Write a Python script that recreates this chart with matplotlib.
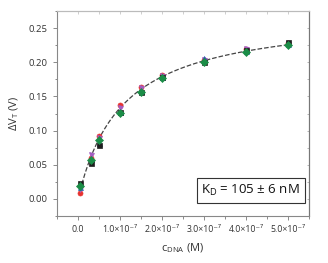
import matplotlib
matplotlib.use('Agg')
import matplotlib.pyplot as plt
import numpy as np
from matplotlib.ticker import MultipleLocator, FixedLocator

plt.rcParams['font.family'] = ['Open Sans', 'DejaVu Sans']

# concentrations (M)
conc = np.array([0.05, 0.3, 0.5, 1.0, 1.5, 2.0, 3.0, 4.0, 5.0]) * 1e-7

# five repeat measurements of delta V_T (V)
dv_red = [0.008, 0.060, 0.092, 0.137, 0.164, 0.182, 0.203, 0.219, 0.228]
dv_purple = [0.015, 0.065, 0.089, 0.133, 0.162, 0.180, 0.203, 0.219, 0.226]
dv_blue = [0.018, 0.058, 0.082, 0.127, 0.158, 0.179, 0.206, 0.217, 0.227]
dv_black = [0.023, 0.052, 0.079, 0.127, 0.157, 0.179, 0.201, 0.218, 0.230]
dv_green = [0.019, 0.057, 0.086, 0.126, 0.157, 0.177, 0.200, 0.215, 0.225]

kd = 105e-9

fig = plt.figure(figsize=(3.28, 2.63), dpi=100)
ax = fig.add_axes([57 / 328, 1 - 216 / 263, 252 / 328, 205 / 263])

series = [
    (dv_red, 'o', '#e8322f'),
    (dv_purple, 'v', '#a35cc0'),
    (dv_blue, '^', '#2b5fae'),
    (dv_black, 's', '#1e1e1e'),
    (dv_green, 'D', '#1b8d47'),
]

# Langmuir fit (offset + amplitude) on the mean response, K_D fixed
mean_dv = np.mean([s[0] for s in series], axis=0)
theta = conc / (kd + conc)
A, y0 = np.linalg.lstsq(np.vstack([theta, np.ones_like(theta)]).T, mean_dv, rcond=None)[0]
xfit = np.linspace(conc[0], conc[-1], 300)
ax.plot(xfit, y0 + A * xfit / (kd + xfit), color='#444444', linestyle='--', linewidth=0.9, zorder=1)

for vals, mk, col in series:
    ax.plot(conc, vals, linestyle='none', marker=mk, color=col, markersize=3.6,
            markeredgewidth=0.5, zorder=3)

ax.set_xlim(-0.5e-7, 5.5e-7)
ax.set_ylim(-0.025, 0.275)

xticks = [0, 1e-7, 2e-7, 3e-7, 4e-7, 5e-7]
xticklabels = ['0.0', '1.0×10⁻⁷', '2.0×10⁻⁷', '3.0×10⁻⁷', '4.0×10⁻⁷', '5.0×10⁻⁷']
ax.xaxis.set_major_locator(FixedLocator(xticks))
ax.set_xticklabels(xticklabels, fontsize=6.3, color='#333333')
ax.xaxis.set_minor_locator(MultipleLocator(0.5e-7))
ax.set_yticks([0.0, 0.05, 0.10, 0.15, 0.20, 0.25])
ax.yaxis.set_minor_locator(MultipleLocator(0.025))
ax.set_yticklabels(['0.00', '0.05', '0.10', '0.15', '0.20', '0.25'], fontsize=6.8, color='#333333')

ax.tick_params(which='both', direction='out', length=3, width=0.6, color='#777777')
ax.tick_params(which='minor', length=1.8)

# small inward ticks on top and right
top = ax.secondary_xaxis('top')
top.xaxis.set_major_locator(FixedLocator(xticks))
top.xaxis.set_minor_locator(MultipleLocator(0.5e-7))
top.tick_params(which='both', direction='in', length=1.8, width=0.5, color='#bbbbbb', labeltop=False)
top.spines['top'].set_color('#bbbbbb')
right = ax.secondary_yaxis('right')
right.set_yticks([0.0, 0.05, 0.10, 0.15, 0.20, 0.25])
right.yaxis.set_minor_locator(MultipleLocator(0.025))
right.tick_params(which='both', direction='in', length=1.8, width=0.5, color='#999999', labelright=False)
right.spines['right'].set_color('#777777')

ax.spines['left'].set_color('#888888')
ax.spines['bottom'].set_color('#888888')
ax.spines['top'].set_color('#bbbbbb')
ax.spines['right'].set_color('#777777')
for spine in ax.spines.values():
    spine.set_linewidth(0.8)

ax.set_ylabel('ΔV$_\\mathregular{T}$ (V)', fontsize=8, color='#333333', labelpad=6)
ax.set_xlabel('c$_\\mathregular{DNA}$ (M)', fontsize=8, color='#333333', labelpad=5)

ax.text(0.965, 0.125, 'K$_\\mathregular{D}$ = 105 ± 6 nM', transform=ax.transAxes,
        ha='right', va='center', fontsize=9.5, color='#111111',
        bbox=dict(boxstyle='square,pad=0.35', facecolor='white', edgecolor='#333333', linewidth=0.8))

fig.savefig('out.png', dpi=100)
